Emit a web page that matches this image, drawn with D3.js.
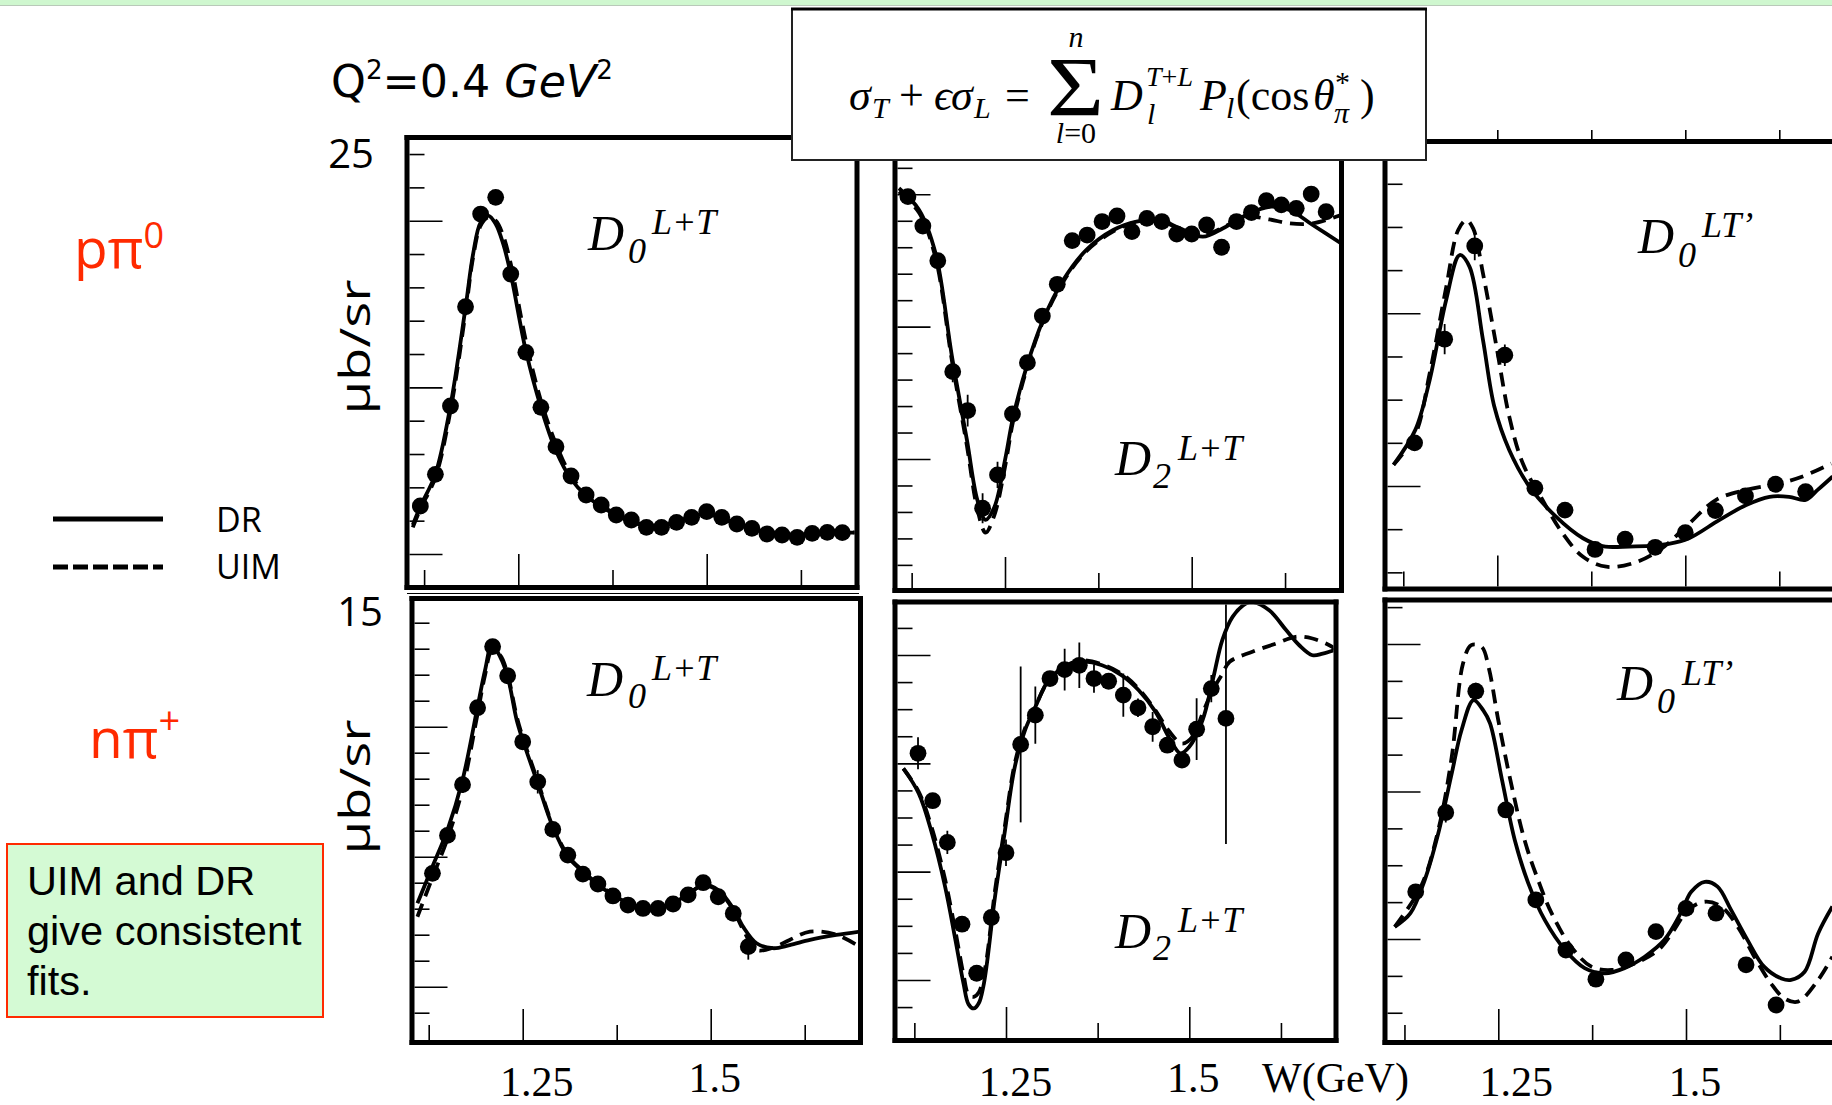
<!DOCTYPE html>
<html>
<head>
<meta charset="utf-8">
<script src="https://cdn.jsdelivr.net/npm/d3@7"></script>
<style>
  html, body { margin: 0; padding: 0; background: #fff; }
  svg { display: block; }
</style>
</head>
<body>
<svg id="fig" width="1832" height="1105"></svg>
<script>
// ---------------- data: W in GeV, Legendre moments (arbitrary units per panel) ----------------

// p pi0, D0 (L+T)
const W_ppi0_D0 = [1.12,1.14,1.16,1.18,1.20,1.22,1.24,1.26,1.28,1.30,1.32,1.34,1.36,1.38,1.40,1.42,1.44,1.46,1.48,1.50,1.52,1.54,1.56,1.58,1.60,1.62,1.64,1.66,1.68];
const ppi0_D0 = [2.88,4.78,8.88,14.84,20.4,21.4,16.8,12.1,8.8,6.44,4.68,3.54,2.94,2.34,2.04,1.6,1.6,1.9,2.2,2.54,2.2,1.8,1.54,1.2,1.14,1.0,1.24,1.3,1.28];
const ppi0_D0_err = [0,0,0,0,0,0,0,0,0,0,0,0,0,0,0,0,0,0,0,0,0,0,0,0,0,0,0,0,0];
const Wfit_ppi0_D0 = [1.11,1.12,1.14,1.16,1.18,1.19,1.20,1.21,1.22,1.23,1.24,1.26,1.28,1.30,1.32,1.34,1.36,1.38,1.40,1.42,1.44,1.46,1.48,1.50,1.52,1.54,1.56,1.58,1.60,1.62,1.64,1.66,1.70];
const DR_ppi0_D0 = [1.74,2.85,4.8,8.9,14.8,18.0,19.9,20.3,19.8,18.6,16.8,12.2,8.8,6.2,4.5,3.5,2.84,2.34,1.94,1.68,1.68,1.94,2.24,2.44,2.14,1.8,1.54,1.28,1.2,1.14,1.24,1.28,1.28];
const UIM_ppi0_D0 = [1.6,2.7,4.6,8.6,14.5,17.8,19.7,20.2,20.0,19.1,17.4,12.8,9.2,6.6,4.7,3.6,2.9,2.4,2.0,1.72,1.68,1.9,2.2,2.42,2.18,1.84,1.56,1.3,1.2,1.16,1.22,1.28,1.3];

// p pi0, D2 (L+T)
const W_ppi0_D2 = [1.12,1.14,1.16,1.18,1.20,1.22,1.24,1.26,1.28,1.30,1.32,1.34,1.36,1.38,1.40,1.42,1.44,1.46,1.48,1.50,1.52,1.54,1.56,1.58,1.60,1.62,1.64,1.66,1.68];
const ppi0_D2 = [9.91,8.80,7.49,3.30,1.83,-1.86,-0.60,1.70,3.64,5.40,6.60,8.25,8.46,8.97,9.18,8.59,9.09,8.97,8.50,8.50,8.84,8.00,8.97,9.31,9.76,9.60,9.47,10.01,9.34];
const ppi0_D2_err = [0,0,0,0.4,0.6,0.57,0.5,0.3,0,0,0,0,0,0,0,0,0,0,0,0,0,0,0,0,0,0,0,0,0];
const WDR_ppi0_D2 = [1.108,1.135,1.157,1.179,1.199,1.213,1.224,1.236,1.25,1.261,1.279,1.301,1.328,1.359,1.395,1.426,1.457,1.484,1.515,1.542,1.573,1.604,1.631,1.662,1.70];
const DR_ppi0_D2 = [10.23,9.41,7.77,3.87,0.72,-1.55,-2.30,-1.80,-0.04,1.60,3.49,5.25,6.76,7.90,8.65,8.97,9.03,8.72,8.40,8.72,9.22,9.53,9.41,8.84,8.15];
const UIM_ppi0_D2 = [10.1,9.3,7.6,3.7,0.5,-1.9,-2.78,-2.1,-0.3,1.45,3.4,5.2,6.7,7.85,8.6,8.95,9.0,8.7,8.45,8.75,9.15,9.05,8.9,8.9,9.22];

// p pi0, D0 (LT')
const W_ppi0_LT = [1.14,1.18,1.22,1.26,1.30,1.34,1.38,1.42,1.46,1.50,1.54,1.58,1.62,1.66];
const ppi0_LT = [1.00,3.40,5.56,3.03,-0.05,-0.56,-1.47,-1.23,-1.42,-1.08,-0.57,-0.23,0.04,-0.13];
const ppi0_LT_err = [0.1,0.35,0.33,0.25,0.1,0,0,0,0,0,0,0,0,0];
const WDR_ppi0_LT = [1.112,1.141,1.160,1.182,1.200,1.213,1.231,1.246,1.266,1.293,1.328,1.364,1.390,1.434,1.478,1.505,1.545,1.581,1.612,1.638,1.660,1.676,1.696];
const DR_ppi0_LT = [0.49,1.30,2.45,4.31,5.35,5.08,3.38,1.84,0.83,-0.02,-0.71,-1.21,-1.39,-1.40,-1.34,-1.21,-0.79,-0.44,-0.25,-0.25,-0.32,-0.09,0.22];
const WUIM_ppi0_LT = [1.112,1.141,1.160,1.182,1.198,1.209,1.218,1.231,1.249,1.266,1.284,1.31,1.337,1.364,1.395,1.430,1.466,1.501,1.541,1.581,1.625,1.656,1.694];
const UIM_ppi0_LT = [0.49,1.2,2.6,4.6,5.93,6.16,5.96,4.92,3.22,1.60,0.52,-0.32,-1.10,-1.64,-1.87,-1.79,-1.48,-0.94,-0.32,-0.09,0.06,0.22,0.52];

// n pi+, D0 (L+T)
const W_npip_D0 = [1.13,1.15,1.17,1.19,1.21,1.23,1.25,1.27,1.29,1.31,1.33,1.35,1.37,1.39,1.41,1.43,1.45,1.47,1.49,1.51,1.53,1.55];
const npip_D0 = [4.36,5.82,7.77,10.73,13.08,11.96,9.42,7.88,6.05,5.06,4.33,3.95,3.49,3.14,3.01,3.01,3.18,3.53,4.00,3.46,2.82,1.54];
const npip_D0_err = [0,0,0,0,0,0,0,0.45,0,0,0,0,0,0,0,0,0,0,0,0,0,0.5];
const Wfit_npip_D0 = [1.11,1.13,1.15,1.17,1.19,1.20,1.209,1.22,1.23,1.242,1.25,1.27,1.29,1.31,1.33,1.35,1.37,1.39,1.41,1.43,1.45,1.47,1.49,1.51,1.53,1.543,1.561,1.583,1.605,1.632,1.667,1.698];
const DR_npip_D0 = [3.21,4.62,6.03,7.95,10.77,12.18,13.14,12.69,11.92,10.26,9.49,7.82,6.15,5.0,4.42,3.91,3.53,3.21,3.01,3.01,3.21,3.57,3.91,3.72,3.01,2.31,1.67,1.48,1.60,1.80,1.99,2.12];
const UIM_npip_D0 = [2.69,4.2,5.7,7.6,10.5,12.0,12.9,12.75,12.0,10.4,9.6,7.9,6.2,5.05,4.45,3.95,3.55,3.22,3.02,3.02,3.2,3.55,3.9,3.68,2.95,2.2,1.42,1.5,1.8,2.12,2.0,1.54];

// n pi+, D2 (L+T)
const W_npip_D2 = [1.13,1.15,1.17,1.19,1.21,1.23,1.25,1.27,1.29,1.31,1.33,1.35,1.37,1.39,1.41,1.43,1.45,1.47,1.49,1.51,1.53,1.55];
const npip_D2 = [8.37,6.62,5.08,2.06,0.25,2.31,4.70,8.70,9.78,11.13,11.46,11.62,11.13,11.03,10.52,10.05,9.35,8.67,8.12,9.26,10.76,9.66];
const npip_D2_err = [0.59,0.2,0.43,0,0,0,0.49,2.88,1.06,0,0.77,0.84,0.52,0,0.8,0.34,0.55,0,0,1.14,0.5,4.64];
const WDR_npip_D2 = [1.110,1.131,1.149,1.167,1.181,1.192,1.199,1.206,1.213,1.219,1.224,1.235,1.248,1.262,1.276,1.290,1.308,1.331,1.353,1.381,1.408,1.431,1.454,1.472,1.488,1.500,1.518,1.532,1.545,1.559,1.577,1.586,1.609,1.632,1.650,1.668,1.682,1.698];
const DR_npip_D2 = [7.81,6.89,5.41,3.44,1.48,-0.12,-0.90,-1.05,-0.85,-0.25,0.62,3.07,5.41,7.87,9.23,10.08,11.07,11.56,11.75,11.62,11.25,10.70,9.90,8.97,8.37,8.61,9.59,11.07,12.55,13.41,13.90,13.96,13.65,12.92,12.36,11.99,12.05,12.18];
const WUIM_npip_D2 = [1.110,1.131,1.149,1.167,1.181,1.192,1.199,1.206,1.213,1.219,1.224,1.235,1.248,1.262,1.276,1.290,1.308,1.331,1.353,1.381,1.408,1.431,1.454,1.472,1.490,1.505,1.518,1.532,1.545,1.555,1.586,1.618,1.645,1.668,1.691,1.698];
const UIM_npip_D2 = [7.81,6.95,5.6,3.7,1.8,0.2,-0.55,-0.62,-0.45,0.1,0.85,3.3,5.6,8.0,9.3,10.1,11.05,11.6,11.8,11.65,11.3,10.75,9.95,9.2,8.73,9.0,9.84,10.7,11.3,11.75,12.12,12.42,12.67,12.61,12.36,12.24];

// n pi+, D0 (LT')
const W_npip_LT = [1.14,1.18,1.22,1.26,1.30,1.34,1.38,1.42,1.46,1.50,1.54,1.58,1.62];
const npip_LT = [1.28,3.43,6.72,3.50,1.06,-0.30,-1.09,-0.57,0.20,0.83,0.70,-0.70,-1.79];
const npip_LT_err = [0,0.27,0.23,0,0,0,0,0,0,0,0,0,0];
const WDR_npip_LT = [1.112,1.133,1.152,1.170,1.188,1.201,1.217,1.230,1.239,1.255,1.272,1.290,1.312,1.339,1.365,1.392,1.418,1.445,1.471,1.493,1.507,1.525,1.542,1.560,1.582,1.604,1.627,1.640,1.658,1.676,1.695];
const DR_npip_LT = [0.33,0.70,1.60,2.86,4.49,5.66,6.48,6.2,5.85,4.31,2.68,1.51,0.51,-0.30,-0.79,-0.93,-0.79,-0.48,-0.03,0.70,1.28,1.55,1.42,0.79,-0.03,-0.75,-1.07,-1.11,-0.89,0.15,0.88];
const WUIM_npip_LT = [1.112,1.147,1.170,1.188,1.203,1.214,1.228,1.237,1.250,1.268,1.285,1.303,1.321,1.347,1.374,1.401,1.432,1.463,1.481,1.503,1.525,1.547,1.569,1.591,1.613,1.631,1.649,1.676,1.695];
const UIM_npip_LT = [0.33,1.42,2.95,4.94,7.47,7.97,7.92,7.38,5.93,4.13,2.68,1.60,0.70,-0.21,-0.75,-0.84,-0.66,-0.30,0.15,0.79,1.01,0.88,0.33,-0.48,-1.20,-1.61,-1.70,-1.11,-0.48];

// axis ticks and labels
const xMinorTicks = [1.125, 1.375, 1.625];
const xMajorTicks = [1.25, 1.5];
const xTickLabels = ["1.25", "1.5"];
const legendNames = ["DR", "UIM"];

// ---------------- layout ----------------
const panels = [
  { w: W_ppi0_D0, v: ppi0_D0, e: ppi0_D0_err, wDR: Wfit_ppi0_D0, dr: DR_ppi0_D0, wUIM: Wfit_ppi0_D0, uim: UIM_ppi0_D0,
    xr: [518.3, 706.7], yd: [0, 20], yr: [554, 220.7],
    frame: { l: 407, r: 857, t: 137.5, b: 587.5, sides: "trbl" },
    yMinor: d3.range(0, 25, 2), yMajor: [0, 10, 20],
    label: { D: [588, 250], sub: ["0", 628, 263], sup: ["L+T", 652, 234] } },
  { w: W_ppi0_D2, v: ppi0_D2, e: ppi0_D2_err, wDR: WDR_ppi0_D2, dr: DR_ppi0_D2, wUIM: WDR_ppi0_D2, uim: UIM_ppi0_D2,
    xr: [1005, 1191.7], yd: [0, 10], yr: [459, 194.3],
    frame: { l: 895, r: 1341.5, t: 163, b: 590.5, sides: "rbl" },
    yMinor: d3.range(-4, 12), yMajor: [0, 5, 10],
    label: { D: [1115, 475], sub: ["2", 1153, 488], sup: ["L+T", 1178, 460] } },
  { w: W_ppi0_LT, v: ppi0_LT, e: ppi0_LT_err, wDR: WDR_ppi0_LT, dr: DR_ppi0_LT, wUIM: WUIM_ppi0_LT, uim: UIM_ppi0_LT,
    xr: [1497.3, 1685.3], yd: [0, 4], yr: [486, 313.3],
    frame: { l: 1385, r: 1845, t: 141.5, b: 589, sides: "tbl" }, topTicks: true,
    yMinor: d3.range(-2, 8), yMajor: [0, 4],
    label: { D: [1638, 253], sub: ["0", 1678, 267], sup: ["LT\u2019", 1702, 237] } },
  { w: W_npip_D0, v: npip_D0, e: npip_D0_err, wDR: Wfit_npip_D0, dr: DR_npip_D0, wUIM: Wfit_npip_D0, uim: UIM_npip_D0,
    xr: [522.7, 710.7], yd: [0, 10], yr: [986.7, 726.7],
    frame: { l: 412, r: 860.5, t: 598.5, b: 1042.5, sides: "trbl" },
    yMinor: d3.range(-1, 15), yMajor: [0, 5, 10],
    label: { D: [587, 696], sub: ["0", 628, 708], sup: ["L+T", 652, 680] },
    tickText: [{ dx: 14, y: 1096 }, { dx: 4, y: 1092 }] },
  { w: W_npip_D2, v: npip_D2, e: npip_D2_err, wDR: WDR_npip_D2, dr: DR_npip_D2, wUIM: WUIM_npip_D2, uim: UIM_npip_D2,
    xr: [1006, 1189.3], yd: [0, 12], yr: [980, 655],
    frame: { l: 895, r: 1336, t: 602, b: 1040.5, sides: "trbl" },
    yMinor: d3.range(-1, 14), yMajor: [0, 4, 8, 12],
    label: { D: [1115, 948], sub: ["2", 1153, 960], sup: ["L+T", 1178, 932] },
    tickText: [{ dx: 9.5, y: 1096 }, { dx: 4, y: 1092 }] },
  { w: W_npip_LT, v: npip_LT, e: npip_LT_err, wDR: WDR_npip_LT, dr: DR_npip_LT, wUIM: WUIM_npip_LT, uim: UIM_npip_LT,
    xr: [1498.3, 1686], yd: [0, 8], yr: [939, 644],
    frame: { l: 1385, r: 1845, t: 600, b: 1042.5, sides: "tbl" },
    yMinor: d3.range(-2, 10), yMajor: [0, 4, 8],
    label: { D: [1617, 700], sub: ["0", 1657, 713], sup: ["LT\u2019", 1682, 685] },
    tickText: [{ dx: 18, y: 1096 }, { dx: 9, y: 1096 }] }
];

const SERIF = "'Liberation Serif', 'DejaVu Serif', serif";
const SANS = "'Open Sans', 'Noto Sans', sans-serif";
const FW = 5;          // frame stroke width
const INK = "#000";

const svg = d3.select("#fig");
const defs = svg.append("defs");

// slide header strip
svg.append("rect").attr("x", 0).attr("y", 0).attr("width", 1832).attr("height", 5).attr("fill", "#cff7cf");
svg.append("line").attr("x1", 0).attr("x2", 1832).attr("y1", 5.5).attr("y2", 5.5).attr("stroke", "#b9c9b9").attr("stroke-width", 1);

panels.forEach((p, i) => {
  const x = d3.scaleLinear().domain([1.25, 1.5]).range(p.xr);
  const y = d3.scaleLinear().domain(p.yd).range(p.yr);
  const f = p.frame;
  const g = svg.append("g");

  const clipId = "plotclip" + i;
  defs.append("clipPath").attr("id", clipId).append("rect")
    .attr("x", f.l + FW / 2).attr("y", f.t + FW / 2)
    .attr("width", f.r - f.l - FW).attr("height", f.b - f.t - FW);
  const plot = g.append("g").attr("clip-path", `url(#${clipId})`);

  const line = d3.line().x(d => x(d[0])).y(d => y(d[1])).curve(d3.curveCatmullRom.alpha(0.5));

  // UIM (dashed) and DR (solid) curves
  plot.append("path").datum(d3.zip(p.wUIM, p.uim)).attr("d", line)
    .attr("fill", "none").attr("stroke", INK).attr("stroke-width", 3.8).attr("stroke-dasharray", "14 8");
  plot.append("path").datum(d3.zip(p.wDR, p.dr)).attr("d", line)
    .attr("fill", "none").attr("stroke", INK).attr("stroke-width", 3.8);

  // data points with error bars
  const pts = d3.zip(p.w, p.v, p.e);
  plot.selectAll("line.err").data(pts.filter(d => d[2] > 0)).join("line").attr("class", "err")
    .attr("x1", d => x(d[0])).attr("x2", d => x(d[0]))
    .attr("y1", d => y(d[1] - d[2])).attr("y2", d => y(d[1] + d[2]))
    .attr("stroke", INK).attr("stroke-width", 1.8);
  plot.selectAll("circle").data(pts).join("circle")
    .attr("cx", d => x(d[0])).attr("cy", d => y(d[1])).attr("r", 8.4).attr("fill", INK);

  // ticks (inside the frame)
  const styleAxis = sel => {
    sel.select(".domain").remove();
    sel.selectAll(".tick line").attr("stroke", INK).attr("stroke-width", 1.6);
  };
  g.append("g").attr("transform", `translate(${f.l + FW / 2},0)`)
    .call(d3.axisRight(y).tickValues(p.yMinor.filter(v => !p.yMajor.includes(v))).tickSize(15).tickFormat(""))
    .call(styleAxis);
  g.append("g").attr("transform", `translate(${f.l + FW / 2},0)`)
    .call(d3.axisRight(y).tickValues(p.yMajor).tickSize(33).tickFormat(""))
    .call(styleAxis);
  g.append("g").attr("transform", `translate(0,${f.b - FW / 2})`)
    .call(d3.axisTop(x).tickValues(xMinorTicks).tickSize(15).tickFormat(""))
    .call(styleAxis);
  g.append("g").attr("transform", `translate(0,${f.b - FW / 2})`)
    .call(d3.axisTop(x).tickValues(xMajorTicks).tickSize(31).tickFormat(""))
    .call(styleAxis);
  if (p.topTicks) {
    g.append("g").attr("transform", `translate(0,${f.t - FW / 2})`)
      .call(d3.axisTop(x).tickValues(xMinorTicks.concat(xMajorTicks)).tickSize(9).tickFormat(""))
      .call(styleAxis);
  }

  // frame
  const sides = { t: [f.l, f.t, f.r, f.t], r: [f.r, f.t, f.r, f.b], b: [f.l, f.b, f.r, f.b], l: [f.l, f.t, f.l, f.b] };
  for (const s of f.sides) {
    const c = sides[s];
    g.append("line").attr("x1", c[0]).attr("y1", c[1]).attr("x2", c[2]).attr("y2", c[3])
      .attr("stroke", INK).attr("stroke-width", FW).attr("stroke-linecap", "square");
  }

  // panel label  D_l^{...}
  const lab = g.append("g").attr("font-family", SERIF).attr("font-style", "italic").attr("fill", INK);
  lab.append("text").attr("x", p.label.D[0]).attr("y", p.label.D[1]).attr("font-size", 50).text("D");
  lab.append("text").attr("x", p.label.sub[1]).attr("y", p.label.sub[2]).attr("font-size", 36).text(p.label.sub[0]);
  lab.append("text").attr("x", p.label.sup[1]).attr("y", p.label.sup[2]).attr("font-size", 36).text(p.label.sup[0]);

  // W tick labels under the lower row
  if (p.tickText) {
    xMajorTicks.forEach((v, k) => {
      svg.append("text").attr("x", x(v) + p.tickText[k].dx).attr("y", p.tickText[k].y)
        .attr("text-anchor", "middle").attr("font-family", SERIF).attr("font-size", 42).attr("fill", INK)
        .text(xTickLabels[k]);
    });
  }
});

// thin rule under the upper-left frame
svg.append("line").attr("x1", 407).attr("x2", 859).attr("y1", 593.5).attr("y2", 593.5).attr("stroke", INK).attr("stroke-width", 1.2);

svg.append("text").attr("x", 1262).attr("y", 1092).attr("font-family", SERIF).attr("font-size", 42).attr("fill", INK).text("W(GeV)");

// ---------------- formula box ----------------
svg.append("rect").attr("x", 792).attr("y", 9).attr("width", 634).attr("height", 151)
  .attr("fill", "#fff").attr("stroke", "#222").attr("stroke-width", 2);
svg.append("line").attr("x1", 791).attr("x2", 1427).attr("y1", 9).attr("y2", 9).attr("stroke", INK).attr("stroke-width", 3);

const fm = svg.append("g").attr("font-family", SERIF).attr("fill", INK);
function put(str, x, y, size, italic, anchor) {
  return fm.append("text").attr("x", x).attr("y", y).attr("font-size", size)
    .attr("font-style", italic ? "italic" : "normal").attr("text-anchor", anchor || "start").text(str);
}
put("\u03C3", 849, 110, 44, true);
put("T", 872, 118, 30, true);
put("+", 899, 110, 44, false);
put("\u03F5", 934, 110, 44, true);
put("\u03C3", 951, 110, 44, true);
put("L", 974, 118, 30, true);
put("=", 1005, 110, 44, false);
put("\u03A3", 1047, 116, 84, false).attr("textLength", 57).attr("lengthAdjust", "spacingAndGlyphs");
put("n", 1076, 47, 30, true, "middle");
const lim = put("", 1076, 143, 30, false, "middle");
lim.append("tspan").attr("font-style", "italic").text("l");
lim.append("tspan").text("=0");
put("D", 1111, 110, 44, true);
const tl = put("", 1146, 86, 28, false);
tl.append("tspan").attr("font-style", "italic").text("T");
tl.append("tspan").text("+");
tl.append("tspan").attr("font-style", "italic").text("L");
put("l", 1147, 124, 30, true);
put("P", 1200, 110, 44, true);
put("l", 1226, 118, 30, true);
put("(cos", 1236, 110, 44, false);
put("\u03B8", 1313, 110, 44, true);
put("*", 1335, 92, 30, false);
put("\u03C0", 1334, 123, 30, true);
put(")", 1360, 110, 44, false);

// ---------------- slide annotations ----------------
const q = svg.append("text").attr("x", 331).attr("y", 97).attr("font-family", "'DejaVu Sans', sans-serif")
  .attr("font-size", 44).attr("fill", INK).attr("textLength", 282).attr("lengthAdjust", "spacingAndGlyphs");
q.append("tspan").text("Q");
q.append("tspan").attr("font-size", 26).attr("dy", -18).text("2");
q.append("tspan").attr("dy", 18).text("=0.4 ");
q.append("tspan").attr("font-style", "italic").text("GeV");
q.append("tspan").attr("font-size", 26).attr("dy", -18).text("2");

svg.append("text").attr("x", 374).attr("y", 168).attr("text-anchor", "end")
  .attr("font-family", SANS).attr("font-size", 40).attr("fill", INK).text("25");
svg.append("text").attr("x", 383).attr("y", 626).attr("text-anchor", "end")
  .attr("font-family", SANS).attr("font-size", 40).attr("fill", INK).text("15");

[347, 787].forEach(cy => {
  svg.append("text").attr("transform", `translate(370,${cy}) rotate(-90)`)
    .attr("text-anchor", "middle").attr("font-family", SANS).attr("font-size", 42).attr("fill", INK)
    .attr("textLength", 135).attr("lengthAdjust", "spacingAndGlyphs").text("\u03BCb/sr");
});

const RED = "#ff2a00";
const r1 = svg.append("text").attr("x", 74).attr("y", 268).attr("font-family", SANS).attr("font-size", 55).attr("fill", RED);
r1.append("tspan").text("p\u03C0");
r1.append("tspan").attr("font-size", 36).attr("dy", -20).text("0");
const r2 = svg.append("text").attr("x", 89).attr("y", 758).attr("font-family", SANS).attr("font-size", 55).attr("fill", RED);
r2.append("tspan").text("n\u03C0");
r2.append("tspan").attr("font-size", 38).attr("dy", -24).text("+");

// legend
svg.append("line").attr("x1", 53).attr("x2", 163).attr("y1", 519).attr("y2", 519).attr("stroke", INK).attr("stroke-width", 5);
svg.append("line").attr("x1", 53).attr("x2", 163).attr("y1", 567).attr("y2", 567).attr("stroke", INK).attr("stroke-width", 5)
  .attr("stroke-dasharray", "15 5");
legendNames.forEach((name, k) => {
  svg.append("text").attr("x", 216).attr("y", 532 + 47 * k).attr("font-family", SANS).attr("font-size", 34)
    .attr("fill", INK).text(name);
});

// note box
svg.append("rect").attr("x", 7).attr("y", 844).attr("width", 316).attr("height", 173)
  .attr("fill", "#d4fad4").attr("stroke", RED).attr("stroke-width", 2);
["UIM and DR", "give consistent", "fits."].forEach((s, k) => {
  svg.append("text").attr("x", 27).attr("y", 895 + 50 * k).attr("font-family", "'Liberation Sans', Arial, sans-serif")
    .attr("font-size", 41.5).attr("fill", INK).text(s);
});
</script>
</body>
</html>
